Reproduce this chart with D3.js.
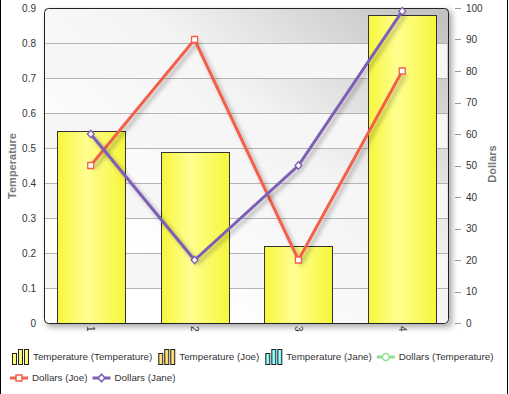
<!DOCTYPE html>
<meta charset="utf-8">
<head>
<script src="https://d3js.org/d3.v7.min.js"></script>
<style>
  body { margin: 0; background: #fff; }
  text { font-family: "Liberation Sans", Arial, sans-serif; }
</style>
</head>
<body>
<div id="chart"></div>
<script>
// data
var categories = ["1", "2", "3", "4"];
var tempValues = [0.55, 0.49, 0.22, 0.88];      // Temperature (Temperature), bars
var dollarsJoe = [50, 90, 20, 80];
var dollarsJane = [60, 20, 50, 99];
var leftTicks = [0, 0.1, 0.2, 0.3, 0.4, 0.5, 0.6, 0.7, 0.8, 0.9];
var rightTicks = [0, 10, 20, 30, 40, 50, 60, 70, 80, 90, 100];
var legendItems = [
  {name: "Temperature (Temperature)", type: "bar", color: "#f6f63c", light: "#ffff90"},
  {name: "Temperature (Joe)", type: "bar", color: "#f2c23a", light: "#ffe68a"},
  {name: "Temperature (Jane)", type: "bar", color: "#4ef0f0", light: "#a0ffff"},
  {name: "Dollars (Temperature)", type: "line", color: "#8fe08f", marker: "circle"},
  {name: "Dollars (Joe)", type: "line", color: "#f2604c", marker: "square"},
  {name: "Dollars (Jane)", type: "line", color: "#7d5fb6", marker: "diamond"}
];

var W = 509, H = 394;
var plot = {left: 44, right: 449, top: 8, bottom: 324};

var svg = d3.select("#chart").append("svg")
    .attr("width", W).attr("height", H);

var defs = svg.append("defs");

var bg = defs.append("linearGradient").attr("id", "bgGrad")
    .attr("x1", 0.2).attr("y1", 0.75).attr("x2", 1).attr("y2", 0.05);
bg.append("stop").attr("offset", 0).attr("stop-color", "#ffffff");
bg.append("stop").attr("offset", 0.5).attr("stop-color", "#f3f3f3");
bg.append("stop").attr("offset", 1).attr("stop-color", "#c2c2c2");

function barGradient(id, c, light) {
  var g = defs.append("linearGradient").attr("id", id)
      .attr("x1", 0).attr("y1", 0).attr("x2", 1).attr("y2", 0);
  g.append("stop").attr("offset", 0).attr("stop-color", c);
  g.append("stop").attr("offset", 0.42).attr("stop-color", light);
  g.append("stop").attr("offset", 1).attr("stop-color", c);
}
legendItems.forEach(function(d, i) {
  if (d.type == "bar") barGradient("barGrad" + i, d.color, d.light);
});

var sh = defs.append("filter").attr("id", "plotShadow")
    .attr("x", "-5%").attr("y", "-5%").attr("width", "115%").attr("height", "115%");
sh.append("feDropShadow").attr("dx", 3).attr("dy", 3).attr("stdDeviation", 3)
    .attr("flood-color", "#000").attr("flood-opacity", 0.35);

var lsh = defs.append("filter").attr("id", "lineShadow")
    .attr("x", "-10%").attr("y", "-10%").attr("width", "130%").attr("height", "130%");
lsh.append("feDropShadow").attr("dx", 3).attr("dy", 3).attr("stdDeviation", 2)
    .attr("flood-color", "#000").attr("flood-opacity", 0.3);

// outer frame lines
svg.append("line").attr("x1", 0.5).attr("x2", 0.5).attr("y1", 0).attr("y2", H)
    .attr("stroke", "#000");
svg.append("line").attr("x1", 507.5).attr("x2", 507.5).attr("y1", 0).attr("y2", H)
    .attr("stroke", "#000");

// scales
var x = d3.scalePoint().domain(categories)
    .range([plot.left, plot.right]).padding(0.45);
var yL = d3.scaleLinear().domain([0, 0.9]).range([323, plot.top]);
var yR = d3.scaleLinear().domain([0, 100]).range([323, plot.top]);

// plot background
var pw = plot.right - plot.left, ph = plot.bottom - plot.top;
svg.append("rect")
    .attr("x", plot.left).attr("y", plot.top).attr("width", pw).attr("height", ph)
    .attr("rx", 4).attr("fill", "url(#bgGrad)")
    .attr("filter", "url(#plotShadow)");

var clip = defs.append("clipPath").attr("id", "plotClip");
clip.append("rect").attr("x", plot.left).attr("y", plot.top)
    .attr("width", pw).attr("height", ph).attr("rx", 4);

var inner = svg.append("g").attr("clip-path", "url(#plotClip)");

// alternating bands
inner.selectAll("rect.band")
  .data(leftTicks.slice(0, -1).filter(function(d, i) { return i % 2 == 1; }))
  .enter().append("rect").attr("class", "band")
    .attr("x", plot.left).attr("width", pw - 2)
    .attr("y", function(d) { return yL(d + 0.1); })
    .attr("height", function(d) { return yL(d) - yL(d + 0.1); })
    .attr("fill", "#f6f6f6");

// gridlines
inner.selectAll("line.grid")
  .data(leftTicks.slice(1, -1))
  .enter().append("line").attr("class", "grid")
    .attr("x1", plot.left).attr("x2", plot.right)
    .attr("y1", function(d) { return Math.round(yL(d)) + 0.5; })
    .attr("y2", function(d) { return Math.round(yL(d)) + 0.5; })
    .attr("stroke", "#b4b4b4");

// bars
var bw = 68;
inner.selectAll("rect.bar")
  .data(tempValues)
  .enter().append("rect").attr("class", "bar")
    .attr("x", function(d, i) { return Math.round(x(categories[i]) - bw / 2) + 0.5; })
    .attr("y", function(d) { return Math.round(yL(d)) + 0.5; })
    .attr("width", bw)
    .attr("height", function(d) { return 324 - Math.round(yL(d)) - 0.5; })
    .attr("fill", "url(#barGrad0)")
    .attr("stroke", "#333").attr("stroke-width", 1);

// plot border
svg.append("rect")
    .attr("x", plot.left + 0.5).attr("y", plot.top + 0.5)
    .attr("width", pw - 1).attr("height", ph - 1)
    .attr("rx", 4).attr("fill", "none").attr("stroke", "#222");

// lines
var line = d3.line()
    .x(function(d, i) { return x(categories[i]); })
    .y(function(d) { return yR(d); });

var squarePath = "M-3,-3H3V3H-3Z";
var diamondPath = "M0,-3.8L3.4,0L0,3.8L-3.4,0Z";

function drawSeries(vals, color, marker) {
  var g = svg.append("g");
  g.append("path").datum(vals)
      .attr("d", line).attr("fill", "none")
      .attr("stroke", color).attr("stroke-width", 3)
      .attr("filter", "url(#lineShadow)");
  var m = g.selectAll("path.m").data(vals).enter().append("path").attr("class", "m")
      .attr("transform", function(d, i) {
        return "translate(" + x(categories[i]) + "," + yR(d) + ")";
      })
      .attr("fill", "#fff").attr("stroke", color).attr("stroke-width", 1.3);
  m.attr("d", marker == "square" ? squarePath : diamondPath);
}
drawSeries(dollarsJoe, "#f2604c", "square");
drawSeries(dollarsJane, "#7d5fb6", "diamond");

// left axis labels
svg.append("g").selectAll("text")
  .data(leftTicks).enter().append("text")
    .attr("x", 36).attr("y", function(d) { return yL(d); })
    .attr("dy", "0.35em").attr("text-anchor", "end")
    .attr("font-size", 10).attr("fill", "#333")
    .text(function(d) { return d3.format("")(d); });

// right axis
var right = svg.append("g");
right.selectAll("line").data(rightTicks).enter().append("line")
    .attr("x1", 455).attr("x2", 461)
    .attr("y1", function(d) { return Math.round(yR(d)) + 0.5; })
    .attr("y2", function(d) { return Math.round(yR(d)) + 0.5; })
    .attr("stroke", "#999");
right.selectAll("text").data(rightTicks).enter().append("text")
    .attr("x", 466).attr("y", function(d) { return yR(d); })
    .attr("dy", "0.35em")
    .attr("font-size", 10).attr("fill", "#333")
    .text(function(d) { return d; });

// x labels (rotated)
svg.append("g").selectAll("text")
  .data(categories).enter().append("text")
    .attr("transform", function(d) { return "translate(" + (x(d) - 3.5) + ",326) rotate(90)"; })
    .attr("font-size", 10).attr("fill", "#333")
    .text(function(d) { return d; });

// axis titles
svg.append("text")
    .attr("transform", "translate(16,166) rotate(-90)")
    .attr("text-anchor", "middle")
    .attr("font-size", 11).attr("font-weight", "bold").attr("fill", "#777")
    .text("Temperature");
svg.append("text")
    .attr("transform", "translate(496,164) rotate(-90)")
    .attr("text-anchor", "middle")
    .attr("font-size", 11).attr("font-weight", "bold").attr("fill", "#777")
    .text("Dollars");

// legend
var leg = svg.append("g");
var lx = 11, ly = 357, rowH = 21, maxX = 505;
legendItems.forEach(function(d, i) {
  var g = leg.append("g");
  var t = g.append("text").attr("x", 22).attr("y", 0).attr("dy", "0.35em")
      .attr("font-size", 9.8).attr("fill", "#333").text(d.name);
  var tw = t.node().getComputedTextLength();
  var iw = 22 + tw;
  if (lx + iw > maxX) { lx = 10; ly += rowH; }
  g.attr("transform", "translate(" + lx + "," + ly + ")");
  if (d.type == "bar") {
    var hs = [11, 15, 15];
    hs.forEach(function(h, k) {
      g.append("rect")
          .attr("x", 1.5 + k * 6).attr("y", 7.5 - h)
          .attr("width", 4).attr("height", h)
          .attr("fill", "url(#barGrad" + i + ")")
          .attr("stroke", "#222").attr("stroke-width", 1);
    });
  } else {
    g.append("line").attr("x1", 0).attr("x2", 18).attr("y1", 0).attr("y2", 0)
        .attr("stroke", d.color).attr("stroke-width", 3);
    var mk = g.append("path").attr("transform", "translate(9,0)")
        .attr("fill", "#fff").attr("stroke", d.color).attr("stroke-width", 1.5);
    if (d.marker == "square") mk.attr("d", squarePath);
    else if (d.marker == "diamond") mk.attr("d", diamondPath);
    else mk.attr("d", d3.symbol(d3.symbolCircle, 36)());
  }
  lx += iw + 5;
});
</script>
</body>
